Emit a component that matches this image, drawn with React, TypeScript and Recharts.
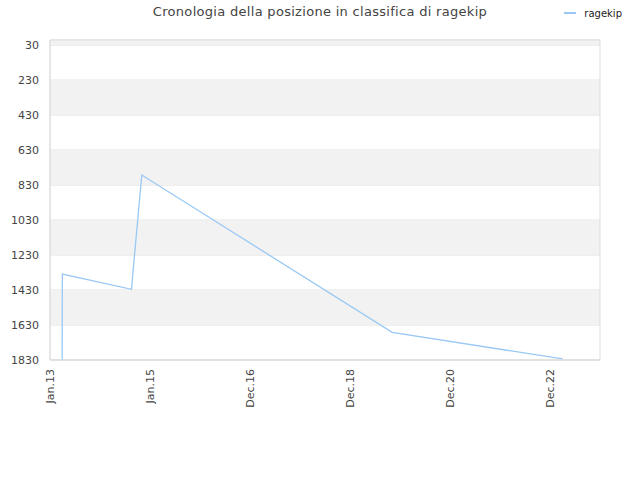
import React from 'react';
import { LineChart, Line, XAxis, YAxis, CartesianGrid, ReferenceArea, Legend } from 'recharts';

const TITLE = 'Cronologia della posizione in classifica di ragekip';
const SERIES_NAME = 'ragekip';

// days since 1 Jan 2013
const days = [89, 90, 595, 607, 670, 2498, 3743];
const ranks = [1830, 1339, 1426, 1316, 773, 1672, 1824];

const xTicks = [0, 730, 1460, 2190, 2920, 3650];
const xTickLabels = ['Jan.13', 'Jan.15', 'Dec.16', 'Dec.18', 'Dec.20', 'Dec.22'];
const yTicks = [30, 230, 430, 630, 830, 1030, 1230, 1430, 1630, 1830];
const grayBands: [number, number][] = [
  [1, 30],
  [230, 430],
  [630, 830],
  [1030, 1230],
  [1430, 1630],
];

const data = days.map((d, i) => ({ d, r: ranks[i] }));

const FONT = '"DejaVu Sans", sans-serif';

const XTick = (props: any) => {
  const { x, y, payload } = props;
  const idx = xTicks.indexOf(payload.value);
  return (
    <text
      x={x}
      y={y}
      transform={`rotate(-90, ${x}, ${y})`}
      textAnchor="end"
      dy="0.35em"
      fontSize={11}
      fontFamily={FONT}
      fill="#444"
    >
      {idx >= 0 ? xTickLabels[idx] : ''}
    </text>
  );
};

const LegendContent = () => (
  <div style={{ display: 'flex', alignItems: 'center', fontFamily: FONT, fontSize: 10, color: '#222', height: 10 }}>
    <svg width={12} height={4} style={{ marginRight: 8 }}>
      <line x1={0} y1={2} x2={12} y2={2} stroke="#99c8f5" strokeWidth={2} />
    </svg>
    <span>{SERIES_NAME}</span>
  </div>
);

export default function App() {
  return (
    <div style={{ position: 'absolute', left: 0, top: 0, width: 640, height: 480, background: '#fff' }}>
      <div
        style={{
          position: 'absolute',
          top: 4,
          left: 0,
          width: 640,
          textAlign: 'center',
          fontFamily: FONT,
          fontSize: 13,
          color: '#444',
          letterSpacing: 0.3,
        }}
      >
        {TITLE}
      </div>
      <LineChart width={640} height={480} data={data} margin={{ top: 30, right: 40, left: 0, bottom: 0 }}>
        {grayBands.map(([a, b], i) => (
          <ReferenceArea key={i} y1={a} y2={b} fill="#f2f2f2" fillOpacity={1} stroke="none" ifOverflow="visible" />
        ))}
        <CartesianGrid vertical={false} stroke="#e0e0e0" strokeDasharray="" />
        <ReferenceArea y1={1} y2={1830} fill="none" stroke="#dddddd" strokeWidth={1} ifOverflow="visible" />
        <XAxis
          dataKey="d"
          type="number"
          domain={[0, 4015]}
          ticks={xTicks}
          tick={<XTick />}
          tickLine={false}
          axisLine={{ stroke: '#dddddd' }}
          tickSize={0}
          tickMargin={9}
          height={120}
          interval={0}
        />
        <YAxis
          type="number"
          domain={[1, 1830]}
          reversed
          ticks={yTicks}
          tickLine={false}
          axisLine={{ stroke: '#dddddd' }}
          tickSize={0}
          tickMargin={11}
          width={50}
          interval={0}
          tick={{ fontSize: 11, fontFamily: FONT, fill: '#444' }}
        />
        <Legend
          verticalAlign="top"
          align="right"
          content={<LegendContent />}
          wrapperStyle={{ position: 'absolute', top: 8, right: 18, left: 'auto', width: 'auto' }}
        />
        <Line
          type="linear"
          dataKey="r"
          name={SERIES_NAME}
          stroke="#99c8f5"
          strokeWidth={1.3}
          dot={false}
          isAnimationActive={false}
        />
      </LineChart>
    </div>
  );
}
